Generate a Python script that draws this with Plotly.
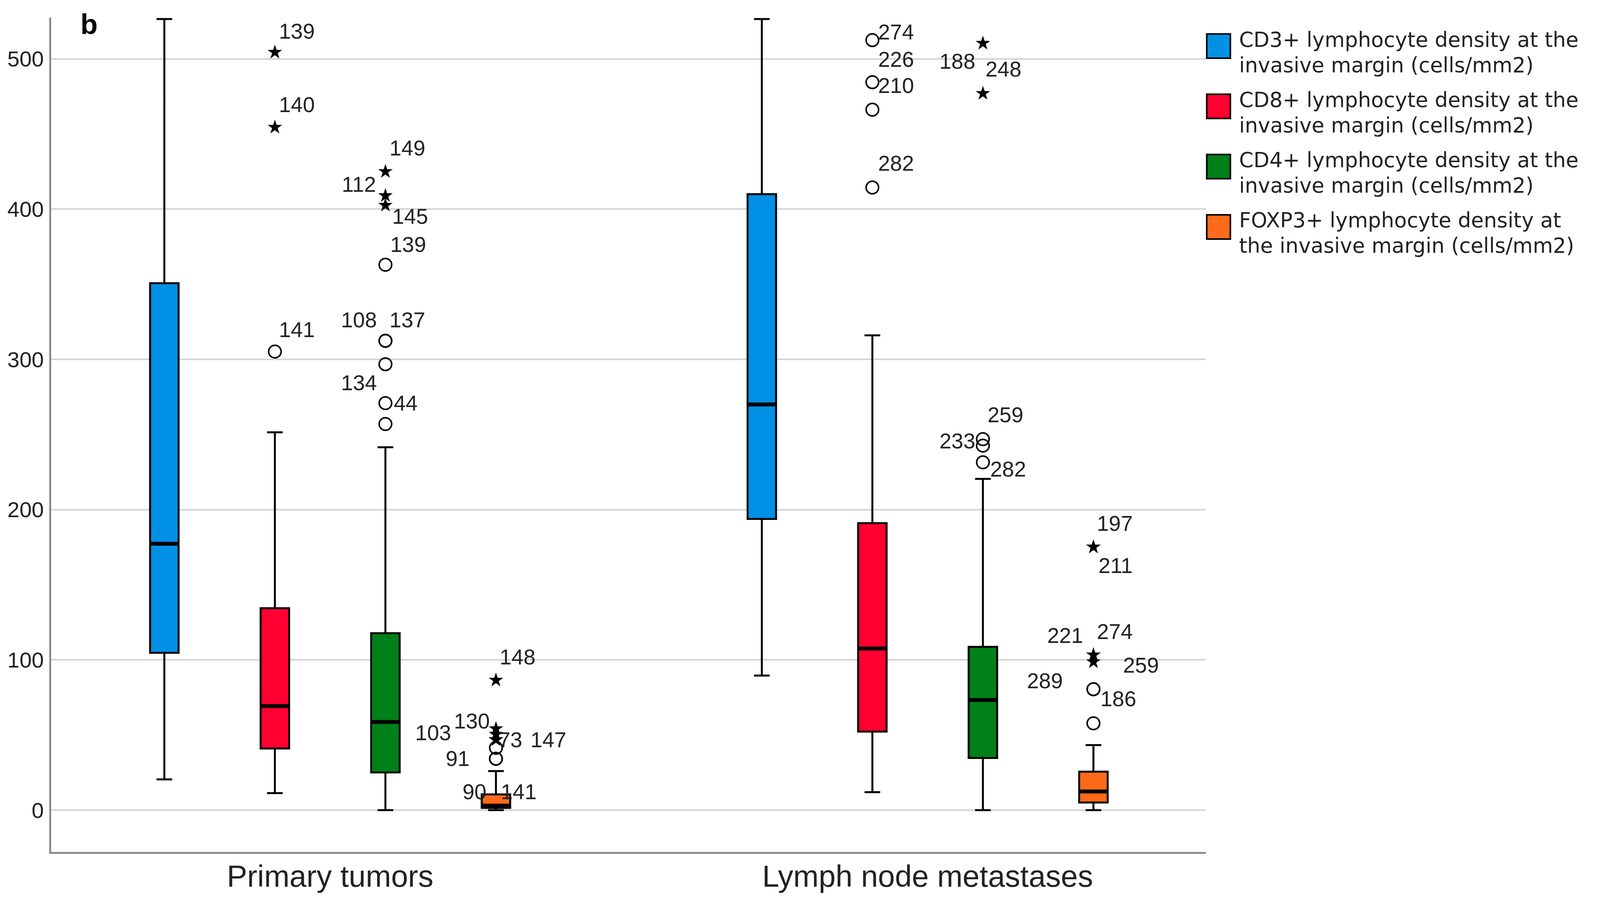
import plotly.graph_objects as go

# ---------------- data ----------------
categories = ["Primary tumors", "Lymph node metastases"]

series_names = [
    "CD3+ lymphocyte density at the invasive margin (cells/mm2)",
    "CD8+ lymphocyte density at the invasive margin (cells/mm2)",
    "CD4+ lymphocyte density at the invasive margin (cells/mm2)",
    "FOXP3+ lymphocyte density at the invasive margin (cells/mm2)",
]
legend_lines = [
    ["CD3+ lymphocyte density at the", "invasive margin (cells/mm2)"],
    ["CD8+ lymphocyte density at the", "invasive margin (cells/mm2)"],
    ["CD4+ lymphocyte density at the", "invasive margin (cells/mm2)"],
    ["FOXP3+ lymphocyte density at", "the invasive margin (cells/mm2)"],
]

y_ticks = [0, 100, 200, 300, 400, 500]

# box statistics per series: [primary, lymph node]
cd3_lower = [20.5, 89.6]
cd3_q1 = [104.7, 193.8]
cd3_median = [177.3, 270.0]
cd3_q3 = [350.7, 410.0]
cd3_upper = [526.5, 526.5]

cd8_lower = [11.3, 12.0]
cd8_q1 = [41.0, 52.3]
cd8_median = [69.3, 107.6]
cd8_q3 = [134.4, 191.0]
cd8_upper = [251.5, 316.0]

cd4_lower = [0.0, 0.0]
cd4_q1 = [25.1, 34.7]
cd4_median = [58.7, 73.3]
cd4_q3 = [117.8, 108.7]
cd4_upper = [241.5, 220.5]

foxp3_lower = [0.0, 0.0]
foxp3_q1 = [1.5, 5.1]
foxp3_median = [3.0, 12.4]
foxp3_q3 = [10.5, 25.6]
foxp3_upper = [26.0, 43.3]

# outliers (category index, value, kind, case label)
cd3_out_cat = []
cd3_out_val = []
cd3_out_kind = []
cd3_out_label = []

cd8_out_cat = [0, 0, 0, 1, 1, 1, 1]
cd8_out_val = [504.4, 454.5, 305.2, 512.5, 484.5, 466.2, 414.4]
cd8_out_kind = ["star", "star", "circle", "circle", "circle", "circle", "circle"]
cd8_out_label = ["139", "140", "141", "274", "226", "210", "282"]

cd4_out_cat = [0, 0, 0, 0, 0, 0, 0, 0, 0, 1, 1, 1, 1, 1]
cd4_out_val = [425.0, 409.0, 402.6, 363.0, 312.4, 312.4, 296.8, 270.9, 257.0,
               510.4, 477.0, 246.9, 242.6, 231.5]
cd4_out_kind = ["star", "star", "star", "circle", "circle", "circle", "circle", "circle", "circle",
                "star", "star", "circle", "circle", "circle"]
cd4_out_label = ["149", "112", "145", "139", "108", "137", "134", "44", "",
                 "188", "248", "259", "233", "282"]

foxp3_out_cat = [0, 0, 0, 0, 0, 0, 0, 0, 1, 1, 1, 1, 1, 1, 1, 1]
foxp3_out_val = [86.5, 54.2, 50.5, 46.9, 46.9, 41.5, 34.2, 34.2,
                 175.1, 175.1, 103.3, 103.3, 98.7, 80.5, 80.5, 57.8]
foxp3_out_kind = ["star", "star", "star", "star", "star", "circle", "circle", "circle",
                  "star", "star", "star", "star", "star", "circle", "circle", "circle"]
foxp3_out_label = ["148", "130", "103", "73", "147", "91", "90", "141",
                   "197", "211", "221", "274", "259", "289", "186", ""]

# ---------------- style ----------------
FONT = "Liberation Sans, Arial, Helvetica, sans-serif"
LEGEND_FONT = "DejaVu Sans, Liberation Sans, Arial, sans-serif"
W, H = 4268, 2322                          # reference frame (px)
L, R, T, B = 137, 3217, 45, 2181           # plot area in reference px
colors = ["#0091E6", "#FF0030", "#008018", "#FF6A1A"]
offsets = [-0.2775, -0.0925, 0.0925, 0.2775]
box_width = 0.0477

# label shifts (px, right / down) for each outlier label
cd3_shift = []
cd8_shift = [(56, -54), (56, -58), (56, -56), (61, -21), (61, -58), (61, -62), (61, -62)]
cd4_shift = [(56, -60), (-68, -29), (63, 29), (58, -52), (-68, -53), (56, -53), (-68, 48),
             (52, 0), (0, 0), (-65, 46), (53, -62), (58, -62), (-65, -12), (65, 17)]
foxp3_shift = [(55, -59), (-62, -20), (-161, -4), (37, 0), (134, 0), (-98, 28), (-55, 84), (58, 84),
               (55, -61), (57, 47), (-72, -50), (55, -60), (122, 9), (-124, -21), (64, 25), (0, 0)]

stats = [
    (cd3_lower, cd3_q1, cd3_median, cd3_q3, cd3_upper),
    (cd8_lower, cd8_q1, cd8_median, cd8_q3, cd8_upper),
    (cd4_lower, cd4_q1, cd4_median, cd4_q3, cd4_upper),
    (foxp3_lower, foxp3_q1, foxp3_median, foxp3_q3, foxp3_upper),
]
outliers = [
    (cd3_out_cat, cd3_out_val, cd3_out_kind, cd3_out_label, cd3_shift),
    (cd8_out_cat, cd8_out_val, cd8_out_kind, cd8_out_label, cd8_shift),
    (cd4_out_cat, cd4_out_val, cd4_out_kind, cd4_out_label, cd4_shift),
    (foxp3_out_cat, foxp3_out_val, foxp3_out_kind, foxp3_out_label, foxp3_shift),
]


def px_x(p):
    return p / W


def px_y(p):
    return 1 - p / H


fig = go.Figure()
annotations = []

for s, name in enumerate(series_names):
    lo, q1, med, q3, up = stats[s]
    xs = [i + offsets[s] for i in range(len(categories))]
    fig.add_trace(go.Box(
        x=xs, q1=q1, median=med, q3=q3, lowerfence=lo, upperfence=up,
        name=name, width=box_width, fillcolor=colors[s],
        line=dict(color="black", width=5), whiskerwidth=0.55,
        boxpoints=False, showlegend=False, hoverinfo="skip",
    ))
    # thick median line
    fig.add_trace(go.Scatter(
        x=xs, y=med, mode="markers", showlegend=False, hoverinfo="skip",
        marker=dict(symbol="line-ew", size=53, line=dict(color="black", width=10)),
    ))
    cats, vals, kinds, labels, shifts = outliers[s]
    for kind, sym, size, lw in (("circle", "circle-open", 32, 4), ("star", "star", 28, 0)):
        idx = [k for k in range(len(vals)) if kinds[k] == kind]
        if not idx:
            continue
        fig.add_trace(go.Scatter(
            x=[cats[k] + offsets[s] for k in idx], y=[vals[k] for k in idx],
            mode="markers", showlegend=False, hoverinfo="skip",
            marker=dict(symbol=sym, size=size, color="black",
                        line=dict(color="black", width=lw)),
        ))
    for k in range(len(vals)):
        if not labels[k]:
            continue
        dx, dy = shifts[k]
        annotations.append(dict(
            x=cats[k] + offsets[s], y=vals[k], xref="x", yref="y",
            text=labels[k], showarrow=False, xanchor="center", yanchor="middle",
            xshift=dx, yshift=-dy, font=dict(family=FONT, size=55, color="#222222"),
        ))

# manual legend (large swatches); one text block per entry
shapes = []
sq_left, sq_right, sq_top0, sq_size, pitch = 3219, 3282, 87, 62, 154.3
for s in range(len(series_names)):
    top = sq_top0 + s * pitch
    shapes.append(dict(type="rect", xref="paper", yref="paper",
                       x0=px_x(sq_left), x1=px_x(sq_right),
                       y0=px_y(top + sq_size), y1=px_y(top),
                       fillcolor=colors[s], line=dict(color="black", width=4)))
    text = "<br>".join('<span style="font-size:53px">%s</span>' % ln for ln in legend_lines[s])
    annotations.append(dict(
        x=px_x(3303), y=px_y(top + 46.5), xref="paper", yref="paper",
        text=text, showarrow=False, xanchor="left", yanchor="middle", align="left",
        font=dict(family=LEGEND_FONT, size=50, color="#222222"),
    ))

annotations.append(dict(
    x=px_x(238), y=px_y(62), xref="paper", yref="paper", text="<b>b</b>",
    showarrow=False, xanchor="center", yanchor="middle",
    font=dict(family=FONT, size=72, color="black"),
))

fig.update_layout(
    autosize=True,
    margin=dict(l=0, r=0, t=0, b=0, pad=0),
    paper_bgcolor="white", plot_bgcolor="white",
    font=dict(family=FONT, color="#222222"),
    showlegend=False,
    shapes=shapes, annotations=annotations,
    xaxis=dict(domain=[L / W, R / W], range=[-0.4666, 1.4659], tickmode="array",
               tickvals=list(range(len(categories))), ticktext=categories,
               showgrid=False, zeroline=False, automargin=False,
               showline=True, linecolor="#8c8c8c", linewidth=5, ticks="",
               tickfont=dict(family=FONT, size=78, color="#222222"), ticklabelstandoff=-10),
    yaxis=dict(domain=[1 - B / H, 1 - T / H], range=[-27.8, 527.5], tickmode="array",
               tickvals=y_ticks, automargin=False,
               showgrid=True, gridcolor="#d4d4d4", gridwidth=4, zeroline=False,
               showline=True, linecolor="#8c8c8c", linewidth=5, ticks="",
               tickfont=dict(family=FONT, size=56, color="#222222"), ticklabelstandoff=3),
)

fig.write_html(
    "out.html",
    config={"displayModeBar": False, "responsive": True},
    default_width="100vw", default_height="100vh",
    post_script="document.body.style.margin='0px';document.body.style.overflow='hidden';"
                "Plotly.Plots.resize(document.getElementById('{plot_id}'));",
)
